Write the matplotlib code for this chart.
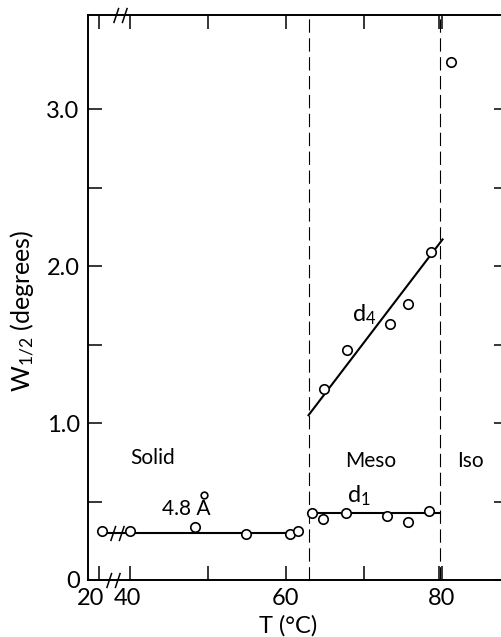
import numpy as np
import matplotlib
matplotlib.use('Agg')
import matplotlib.pyplot as plt
from matplotlib.path import Path
import matplotlib.transforms as mtransforms

# ---------------- data ----------------
solid_T = [22, 40, 48.3, 54.9, 60.5, 61.6]
solid_W = [0.31, 0.31, 0.34, 0.29, 0.29, 0.31]
solid_extra_T = [49.5]
solid_extra_W = [0.54]
d1_T = [63.4, 64.7, 67.7, 73.0, 75.7, 78.3]
d1_W = [0.425, 0.39, 0.425, 0.41, 0.37, 0.44]
d4_T = [64.9, 67.8, 73.3, 75.7, 78.6]
d4_W = [1.215, 1.465, 1.63, 1.76, 2.087]
iso_T = [81.2]
iso_W = [3.30]
fit_solid_T = [22, 61.6]
fit_solid_W = [0.30, 0.30]
fit_d1_T = [62.8, 79.8]
fit_d1_W = [0.425, 0.425]
fit_d4_T = [62.9, 80.1]
fit_d4_W = [1.05, 2.17]
transition_T = [63.0, 79.8]
x_ticks = [20, 40, 50, 60, 70, 80]
x_tick_labels = ['20', '40', '', '60', '', '80']
y_ticks = [0, 0.5, 1.0, 1.5, 2.0, 2.5, 3.0]
y_tick_labels = ['0', '', '1.0', '', '2.0', '', '3.0']

# ---------------- style ----------------
plt.rcParams['font.family'] = ['Lato', 'DejaVu Sans']
plt.rcParams['mathtext.fontset'] = 'custom'
plt.rcParams['mathtext.rm'] = 'Lato'
plt.rcParams['mathtext.it'] = 'Lato'
plt.rcParams['text.color'] = 'black'
plt.rcParams['xtick.color'] = 'black'
plt.rcParams['ytick.color'] = 'black'

BREAK = 40.0
COMP = 0.2


def fwd(t):
    t = np.asarray(t, dtype=float)
    return np.where(t >= BREAK, t, BREAK - (BREAK - t) * COMP)


def inv(u):
    u = np.asarray(u, dtype=float)
    return np.where(u >= BREAK, u, BREAK - (BREAK - u) / COMP)


fig = plt.figure(figsize=(5.01, 6.37), dpi=100)
ax = fig.add_axes([88 / 501, 57 / 637, 420 / 501, 565 / 637])
ax.set_xscale('function', functions=(fwd, inv))
ax.set_xlim(13, 88.5)
ax.set_ylim(0, 3.6)

for s in ax.spines.values():
    s.set_linewidth(1.4)

ax.set_xticks(x_ticks)
ax.set_xticklabels(x_tick_labels)
ax.set_xticks([79.65], minor=True)
ax.set_yticks(y_ticks)
ax.set_yticklabels(y_tick_labels)
ax.tick_params(which='both', direction='in', length=10, width=1.1,
               top=True, right=True, labelsize=17, pad=6, color='black',
               labelcolor='black')
ax.tick_params(axis='y', which='minor', left=False, right=False)

# shift the "20" and "40" labels slightly left, as in the original
for lab, dx in zip(ax.get_xticklabels()[:2], [-8, -3]):
    lab.set_transform(lab.get_transform() +
                      mtransforms.ScaledTranslation(dx / 100, 0, fig.dpi_scale_trans))

# transitions
for t in transition_T:
    ax.axvline(t, color='black', lw=0.8, ls=(0, (12, 5)), zorder=1)

mk = dict(marker='o', mfc='white', mec='black', ms=6.8, mew=1.2, ls='none', zorder=4)
lw = 1.5

ax.plot(fit_solid_T, fit_solid_W, color='black', lw=lw, zorder=2)
ax.plot(fit_d1_T, fit_d1_W, color='black', lw=lw, zorder=2)
ax.plot(fit_d4_T, fit_d4_W, color='black', lw=lw, zorder=2)

ax.plot(solid_T, solid_W, **mk)
ax.plot(solid_extra_T, solid_extra_W, **dict(mk, ms=4.8))
ax.plot(d1_T, d1_W, **mk)
ax.plot(d4_T, d4_W, **mk)
ax.plot(iso_T, iso_W, **mk)

# axis break marks "//"
brk = Path([(-1.6, -1.8), (-0.4, 1.8), (0.4, -1.8), (1.6, 1.8)],
           [Path.MOVETO, Path.LINETO, Path.MOVETO, Path.LINETO])
bk = dict(marker=brk, ms=11, mew=1.1, mec='black', mfc='none', ls='none',
          clip_on=False, zorder=5)
blend = mtransforms.blended_transform_factory(ax.transData, ax.transAxes)
ax.plot([29], [0], transform=blend, **bk)
ax.plot([33.6], [1], transform=blend, **bk)
ax.plot([31.7], [0.30], **bk)

# annotations
fs = 15
ax.text(39.9, 0.78, 'Solid', fontsize=fs, ha='left', va='center')
ax.text(47.2, 0.45, '4.8 Å', fontsize=fs, ha='center', va='center')
ax.text(70.9, 0.76, 'Meso', fontsize=fs, ha='center', va='center')
ax.text(83.7, 0.76, 'Iso', fontsize=fs, ha='center', va='center')
ax.text(69.4, 0.54, r'd$_{\mathrm{1}}$', fontsize=17, ha='center', va='center')
ax.text(70.0, 1.69, r'd$_{\mathrm{4}}$', fontsize=17, ha='center', va='center')

ax.text(0.477, -0.081, 'T (°C)', transform=ax.transAxes, fontsize=17,
        ha='center', va='center')
ax.text(-0.155, 0.476, r'W$_{\mathrm{1/2}}$ (degrees)', transform=ax.transAxes,
        fontsize=18, ha='center', va='center', rotation=90)

fig.savefig('out.png', dpi=100, facecolor='white')
